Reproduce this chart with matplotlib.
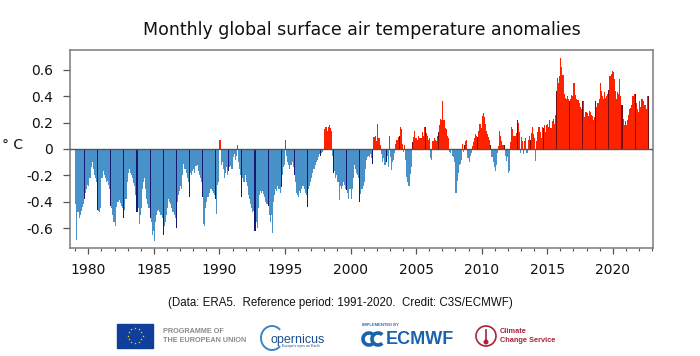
import numpy as np
import matplotlib
matplotlib.use("Agg")
import matplotlib.pyplot as plt
from matplotlib.patches import Rectangle, Arc, Circle

# ---------------- data (monthly anomalies, degC, Jan 1979 - Sep 2022) ----------------
start_year = 1979
highlight_month = 9          # darker bars: September of each year

anom_1979_1984 = [
    -0.42, -0.69, -0.48, -0.52, -0.50, -0.47, -0.44, -0.42, -0.38, -0.33, -0.30, -0.27,
    -0.28, -0.22, -0.14, -0.10, -0.15, -0.20, -0.22, -0.25, -0.46, -0.47, -0.48, -0.45,
    -0.22, -0.17, -0.20, -0.22, -0.25, -0.24, -0.27, -0.30, -0.43, -0.45, -0.50, -0.55,
    -0.58, -0.44, -0.40, -0.40, -0.39, -0.41, -0.43, -0.45, -0.52, -0.46, -0.38, -0.25,
    -0.18, -0.15, -0.18, -0.20, -0.22, -0.26, -0.28, -0.35, -0.48, -0.45, -0.57, -0.50,
    -0.45, -0.30, -0.25, -0.22, -0.30, -0.38, -0.42, -0.45, -0.52, -0.55, -0.65, -0.62,
]
anom_1985_1990 = [
    -0.70, -0.55, -0.50, -0.47, -0.46, -0.48, -0.50, -0.52, -0.65, -0.58, -0.55, -0.50,
    -0.45, -0.38, -0.40, -0.42, -0.45, -0.48, -0.50, -0.52, -0.60, -0.40, -0.35, -0.32,
    -0.28, -0.30, -0.20, -0.11, -0.15, -0.18, -0.22, -0.25, -0.36, -0.18, -0.20, -0.17,
    -0.15, -0.18, -0.13, -0.12, -0.17, -0.20, -0.22, -0.25, -0.36, -0.57, -0.58, -0.45,
    -0.40, -0.36, -0.33, -0.30, -0.30, -0.32, -0.33, -0.35, -0.38, -0.49, -0.27, -0.25,
     0.07, -0.12, -0.10, -0.15, -0.22, -0.18, -0.14, -0.20, -0.17, -0.14, -0.13, -0.15,
]
anom_1991_1996 = [
    -0.06, -0.04, -0.08, -0.05,  0.03, -0.10, -0.15, -0.20, -0.36, -0.22, -0.25, -0.20,
    -0.25, -0.28, -0.35, -0.38, -0.42, -0.45, -0.48, -0.47, -0.62, -0.55, -0.60, -0.45,
    -0.35, -0.32, -0.33, -0.32, -0.34, -0.36, -0.40, -0.42, -0.43, -0.50, -0.55, -0.50,
    -0.64, -0.40, -0.35, -0.30, -0.32, -0.28, -0.30, -0.33, -0.29, -0.20, -0.14, -0.12,
     0.07, -0.05, -0.10, -0.12, -0.15, -0.12, -0.10, -0.14, -0.20, -0.25, -0.33, -0.35,
    -0.36, -0.32, -0.33, -0.30, -0.28, -0.30, -0.33, -0.35, -0.44, -0.30, -0.28, -0.25,
]
anom_1997_2002 = [
    -0.22, -0.18, -0.15, -0.12, -0.10, -0.08, -0.06, -0.04, -0.05, -0.03, -0.02, -0.01,
     0.15,  0.17,  0.14,  0.17,  0.18,  0.16,  0.14, -0.05, -0.18, -0.17, -0.22, -0.20,
    -0.25, -0.39, -0.28, -0.30, -0.28, -0.25, -0.27, -0.30, -0.31, -0.33, -0.38, -0.30,
    -0.38, -0.30, -0.22, -0.12, -0.15, -0.18, -0.20, -0.22, -0.40, -0.34, -0.30, -0.28,
    -0.25, -0.15, -0.08, -0.06, -0.05, -0.06, -0.04, -0.07, -0.11,  0.09,  0.10,  0.06,
     0.19,  0.08,  0.08,  0.03, -0.04, -0.10, -0.07, -0.12, -0.10, -0.05, -0.14,  0.10,
]
anom_2003_2008 = [
    -0.06, -0.16, -0.10, -0.08, -0.03,  0.04,  0.07,  0.09,  0.10,  0.17,  0.15,  0.04,
    -0.02,  0.03, -0.08, -0.21, -0.25, -0.28, -0.19, -0.14,  0.05,  0.09,  0.14,  0.08,
     0.08,  0.07,  0.10,  0.08,  0.08,  0.13,  0.10,  0.17,  0.17,  0.12,  0.10,  0.07,
     0.08, -0.07, -0.08,  0.06,  0.08,  0.07,  0.06,  0.10,  0.13,  0.18,  0.23,  0.22,
     0.36,  0.22,  0.16,  0.15,  0.10,  0.08, -0.02, -0.03, -0.01, -0.05, -0.06, -0.10,
    -0.33, -0.24, -0.18, -0.12, -0.11, -0.08,  0.04, -0.02,  0.03,  0.06,  0.07, -0.07,
]
anom_2009_2014 = [
    -0.10, -0.05, -0.03,  0.02,  0.05,  0.08,  0.11,  0.10,  0.09,  0.14,  0.19,  0.16,
     0.25,  0.27,  0.24,  0.19,  0.14,  0.11,  0.09,  0.07,  0.03, -0.06, -0.10, -0.14,
    -0.17, -0.12, -0.03,  0.02,  0.14,  0.10,  0.06,  0.03,  0.03, -0.05, -0.09, -0.06,
    -0.18, -0.17,  0.05,  0.17,  0.15,  0.10,  0.10,  0.12,  0.22,  0.20,  0.13, -0.03,
     0.09,  0.06, -0.04,  0.06,  0.08, -0.03,  0.07,  0.10,  0.07,  0.12,  0.17,  0.11,
     0.08, -0.09,  0.06,  0.13,  0.17,  0.13,  0.08,  0.17,  0.16,  0.18,  0.13,  0.18,
]
anom_2015_2022 = [
     0.19,  0.17,  0.22,  0.16,  0.21,  0.23,  0.19,  0.26,  0.44,  0.54,  0.50,  0.55,
     0.69,  0.62,  0.56,  0.42,  0.39,  0.38,  0.40,  0.38,  0.36,  0.38,  0.41,  0.40,
     0.50,  0.41,  0.38,  0.37,  0.37,  0.35,  0.32,  0.30,  0.36,  0.36,  0.24,  0.28,
     0.27,  0.25,  0.29,  0.28,  0.26,  0.25,  0.22,  0.24,  0.36,  0.32,  0.35,  0.38,
     0.50,  0.44,  0.40,  0.38,  0.43,  0.39,  0.40,  0.42,  0.45,  0.55,  0.57,  0.59,
     0.58,  0.53,  0.44,  0.38,  0.43,  0.42,  0.53,  0.40,  0.33,  0.23,  0.18,  0.21,
     0.18,  0.22,  0.26,  0.30,  0.31,  0.33,  0.40,  0.42,  0.42,  0.35,  0.30,  0.28,
     0.36,  0.32,  0.38,  0.38,  0.36,  0.33,  0.30,  0.40,  0.40,
]

y_ticks = [-0.6, -0.4, -0.2, 0.0, 0.2, 0.4, 0.6]
y_tick_labels = ["-0.6", "-0.4", "-0.2", "0", "0.2", "0.4", "0.6"]
x_major_years = [1980, 1985, 1990, 1995, 2000, 2005, 2010, 2015, 2020]

title = "Monthly global surface air temperature anomalies"
footer = "(Data: ERA5.  Reference period: 1991-2020.  Credit: C3S/ECMWF)"

# ---------------- build ----------------
values = np.array(anom_1979_1984 + anom_1985_1990 + anom_1991_1996 +
                  anom_1997_2002 + anom_2003_2008 + anom_2009_2014 + anom_2015_2022)
n = len(values)
idx = np.arange(n)
t = start_year + (idx + 0.5) / 12.0
month = idx % 12 + 1

BLUE, RED = "#4891c9", "#ff2200"
NAVY, DRED = "#171a72", "#7a0c0c"
colors = []
for v, m in zip(values, month):
    hi = (m == highlight_month)
    if v < 0:
        colors.append(NAVY if hi else BLUE)
    else:
        colors.append(DRED if hi else RED)

fig = plt.figure(figsize=(7.0, 3.56), dpi=100)
ax = fig.add_axes([70 / 700, 1 - 248 / 356, 583 / 700, 198 / 356])

ax.bar(t, values, width=1 / 12, color=colors, linewidth=0, align="center", zorder=2)
ax.axhline(0, color="#555555", lw=1.0, zorder=3)

ax.set_xlim(1978.6, 2023.07)
ax.set_ylim(-0.75, 0.75)

ax.set_yticks(y_ticks)
ax.set_yticklabels(y_tick_labels)
ax.set_xticks(x_major_years)
ax.set_xticklabels([str(y) for y in x_major_years])
ax.set_xticks(list(range(1979, 2024)), minor=True)

for s in ax.spines.values():
    s.set_color("#7a7a7a")
    s.set_linewidth(1.1)

ax.tick_params(axis="y", which="major", length=5, width=0.9, color="#555555",
               labelsize=10, pad=7, labelcolor="#111111")
ax.tick_params(axis="x", which="major", length=4.5, width=0.9, color="#555555",
               labelsize=10, pad=6, labelcolor="#111111")
ax.tick_params(axis="x", which="minor", length=2.5, width=0.8, color="#555555")

fig.text(13 / 700, 1 - 145 / 356, "° C", fontsize=10, ha="center", va="center", color="#111111")
fig.text(361.5 / 700, 1 - 30 / 356, title, fontsize=12.5, ha="center", va="center", color="#111111")
fig.text(340 / 700, 1 - 303 / 356, footer, fontsize=8.3, ha="center", va="center",
         family="Liberation Sans", color="#111111")

# ---------------- logos row (drawn in pixel coordinates) ----------------
ov = fig.add_axes([0, 0, 1, 1])
ov.set_xlim(0, 700)
ov.set_ylim(356, 0)
ov.axis("off")

# EU flag
ov.add_patch(Rectangle((117, 323.5), 36, 24, color="#0f3f9a"))
ang = np.linspace(0, 2 * np.pi, 13)[:-1]
ov.scatter(135 + 7.5 * np.cos(ang), 335.5 + 7.5 * np.sin(ang), marker="*", s=3,
           color="#ffdd00", linewidths=0)
ov.text(163, 331.5, "PROGRAMME OF", fontsize=5.2, fontweight="bold", color="#8a8a8a",
        va="center", ha="left", family="Liberation Sans")
ov.text(163, 340, "THE EUROPEAN UNION", fontsize=5.2, fontweight="bold", color="#8a8a8a",
        va="center", ha="left", family="Liberation Sans")

# Copernicus
ov.add_patch(Arc((272, 338), 22, 24, theta1=45, theta2=315, color="#3a86c4", lw=1.4))
ov.text(270.5, 339.5, "opernicus", fontsize=9, color="#1d4f8c", va="center", ha="left",
        family="Liberation Sans")
ov.text(282, 346.5, "Europe's eyes on Earth", fontsize=2.6, color="#1d4f8c", va="center",
        ha="left", family="Liberation Sans")

# ECMWF
ov.text(362, 324.5, "IMPLEMENTED BY", fontsize=3, fontweight="bold", color="#2a6db5",
        va="center", ha="left", family="Liberation Sans")
ov.add_patch(Arc((369, 339), 12, 12, theta1=45, theta2=315, color="#1b62ad", lw=2.6))
ov.add_patch(Arc((378, 339), 12, 12, theta1=45, theta2=315, color="#1b62ad", lw=2.6))
ov.text(386, 339.5, "ECMWF", fontsize=13, fontweight="bold", color="#1b62ad",
        va="center", ha="left", family="Liberation Sans")

# Climate Change Service
ov.add_patch(Circle((486, 336), 10, fill=False, ec="#a8243c", lw=1.2))
ov.plot([486, 486], [330, 341], color="#a8243c", lw=1.2)
ov.add_patch(Circle((486, 342), 1.8, color="#a8243c"))
ov.text(500, 331.5, "Climate", fontsize=5.3, fontweight="bold", color="#a8243c",
        va="center", ha="left", family="Liberation Sans")
ov.text(500, 340, "Change Service", fontsize=5.3, fontweight="bold", color="#a8243c",
        va="center", ha="left", family="Liberation Sans")

fig.savefig("out.png", dpi=100)
